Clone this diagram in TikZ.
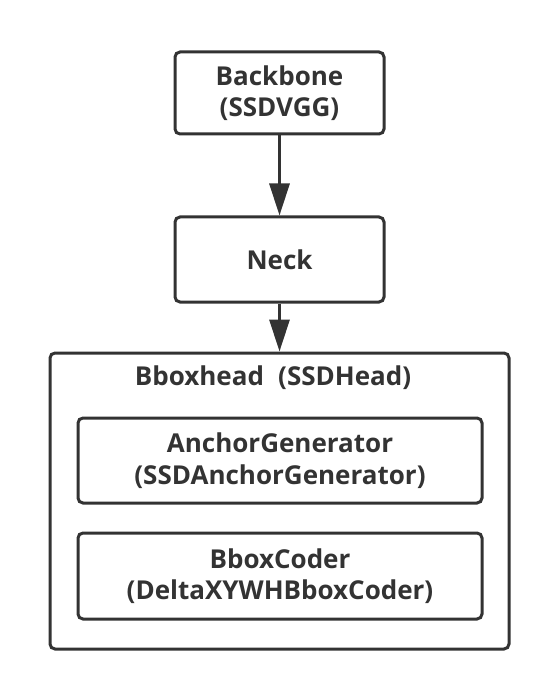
\documentclass[tikz,border=0pt]{standalone}
\usepackage{fontspec}
\setmainfont{Open Sans}
\usetikzlibrary{arrows.meta}
\definecolor{ink}{HTML}{333333}
\begin{document}
\begin{tikzpicture}[x=1pt,y=-1pt,
  lbl/.style={text=ink,font=\fontsize{26}{31.5}\selectfont\bfseries,align=center,inner sep=0pt},
  box/.style={lbl,draw=ink,line width=3pt,rounded corners=5pt},
  conn/.style={draw=ink,line width=3pt,-{Triangle[length=32pt,width=20pt]}}]
\useasboundingbox (0,0) rectangle (558,700);
\fill[white] (0,0) rectangle (558,700);
\node[box,minimum width=209pt,minimum height=82pt] (bb) at (279.5,93) {Backbone\\(SSDVGG)};
\node[box,minimum width=209pt,minimum height=85pt] (neck) at (279.5,259.5) {Neck};
\node[box,minimum width=459pt,minimum height=296pt] (head) at (279.5,501) {};
\node[lbl] (title) at (273,378) {Bboxhead\hspace{0.55em}(SSDHead)};
\node[box,minimum width=404pt,minimum height=85pt] (ag) at (280,460.5) {AnchorGenerator\\(SSDAnchorGenerator)};
\node[box,minimum width=404pt,minimum height=86pt] (bc) at (280,576) {BboxCoder\\(DeltaXYWHBboxCoder)};
\draw[conn] (bb) -- (neck);
\draw[conn] (neck) -- (head);
\end{tikzpicture}
\end{document}
